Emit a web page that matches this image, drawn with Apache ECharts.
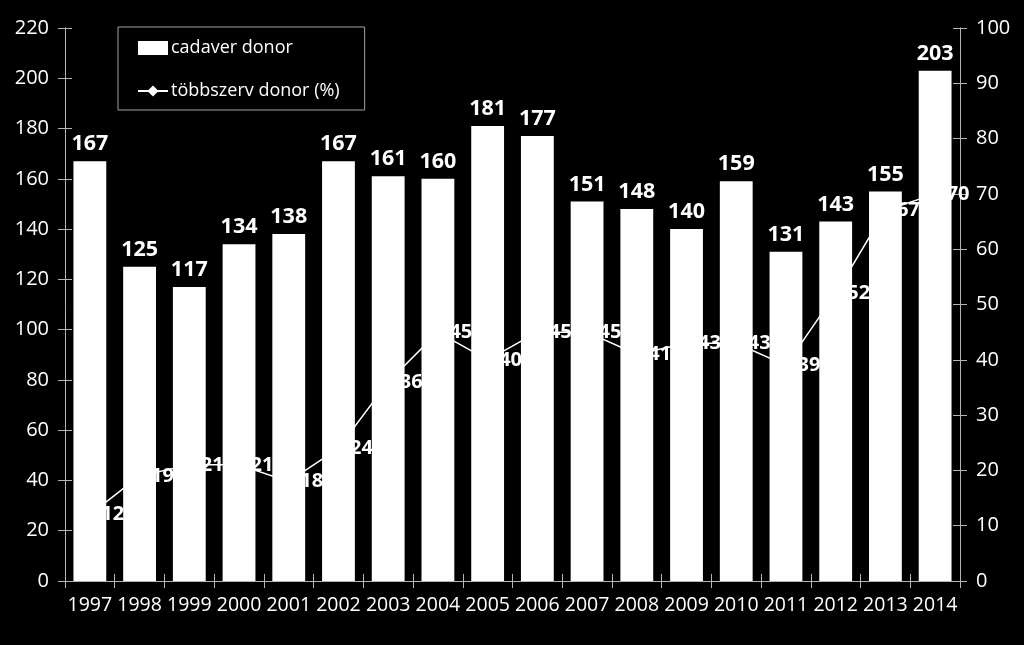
<!DOCTYPE html>
<html><head><meta charset="utf-8">
<script src="https://cdn.jsdelivr.net/npm/echarts@6/dist/echarts.min.js"></script>
<style>html,body{margin:0;padding:0;background:#000}#c{width:1024px;height:645px}</style>
</head><body><div id="c"></div>
<script>
const years = ['1997','1998','1999','2000','2001','2002','2003','2004','2005','2006','2007','2008','2009','2010','2011','2012','2013','2014'];
const cadaverDonor = [167,125,117,134,138,167,161,160,181,177,151,148,140,159,131,143,155,203];
const tobbszervPct = [12,19,21,21,18,24,36,45,40,45,45,41,43,43,39,52,67,70];
const leftTicks = {min:0, max:220, interval:20};
const rightTicks = {min:0, max:100, interval:10};

const FONT = '"Open Sans", "Noto Sans", sans-serif';
const axisCol = '#b4b4b4';
const chart = echarts.init(document.getElementById('c'));
const baseY = (o, pos, tickIn, showLabel) => ({
  type:'value', position:pos, min:o.min, max:o.max, interval:o.interval,
  splitLine:{show:false},
  axisLine:{show:true, lineStyle:{color:axisCol, width:1}},
  axisTick:{show:true, inside:tickIn, length:7, lineStyle:{color:axisCol}},
  axisLabel:{show:showLabel, color:'#fff', fontFamily:FONT, fontSize:20, margin:16}
});
chart.setOption({
  backgroundColor:'#000',
  animation:false,
  textStyle:{fontFamily:FONT},
  legend:{
    left:118, top:27, orient:'vertical',
    padding:[12,25,10,19], itemGap:25, itemWidth:30, itemHeight:14,
    borderColor:'#a0a0a0', borderWidth:1,
    textStyle:{color:'#fff', fontSize:18, fontFamily:FONT, padding:[0,0,0,-2]},
    data:[{name:'cadaver donor', icon:'rect'}, {name:'többszerv donor (%)'}]
  },
  grid:{left:65, right:64, top:28, bottom:64},
  xAxis:[{
    type:'category', data:years, position:'bottom',
    axisLine:{show:true, lineStyle:{color:axisCol}},
    axisTick:{show:true, length:7, lineStyle:{color:axisCol}},
    axisLabel:{color:'#fff', fontFamily:FONT, fontSize:19.5, margin:14, interval:0}
  },{
    type:'category', data:years, position:'bottom',
    axisLine:{show:false},
    axisTick:{show:true, inside:true, length:7, lineStyle:{color:axisCol}},
    axisLabel:{show:false}
  }],
  yAxis:[
    baseY(leftTicks,'left',false,true),
    baseY(rightTicks,'right',false,true),
    baseY(leftTicks,'left',true,false),
    baseY(rightTicks,'right',true,false)
  ],
  series:[{
    name:'cadaver donor', type:'bar', data:cadaverDonor, yAxisIndex:0,
    barWidth:'66%',
    itemStyle:{color:'#fff'},
    label:{show:true, position:'top', distance:6, color:'#fff', fontWeight:'bold', fontSize:21.5, fontFamily:FONT}
  },{
    name:'többszerv donor (%)', type:'line', data:tobbszervPct, yAxisIndex:1,
    symbol:'diamond', symbolSize:11, z:3,
    lineStyle:{color:'#fff', width:1.5},
    itemStyle:{color:'#fff'},
    label:{show:true, position:'right', distance:6, color:'#fff', fontWeight:'bold', fontSize:20, fontFamily:FONT}
  }]
});
</script></body></html>
